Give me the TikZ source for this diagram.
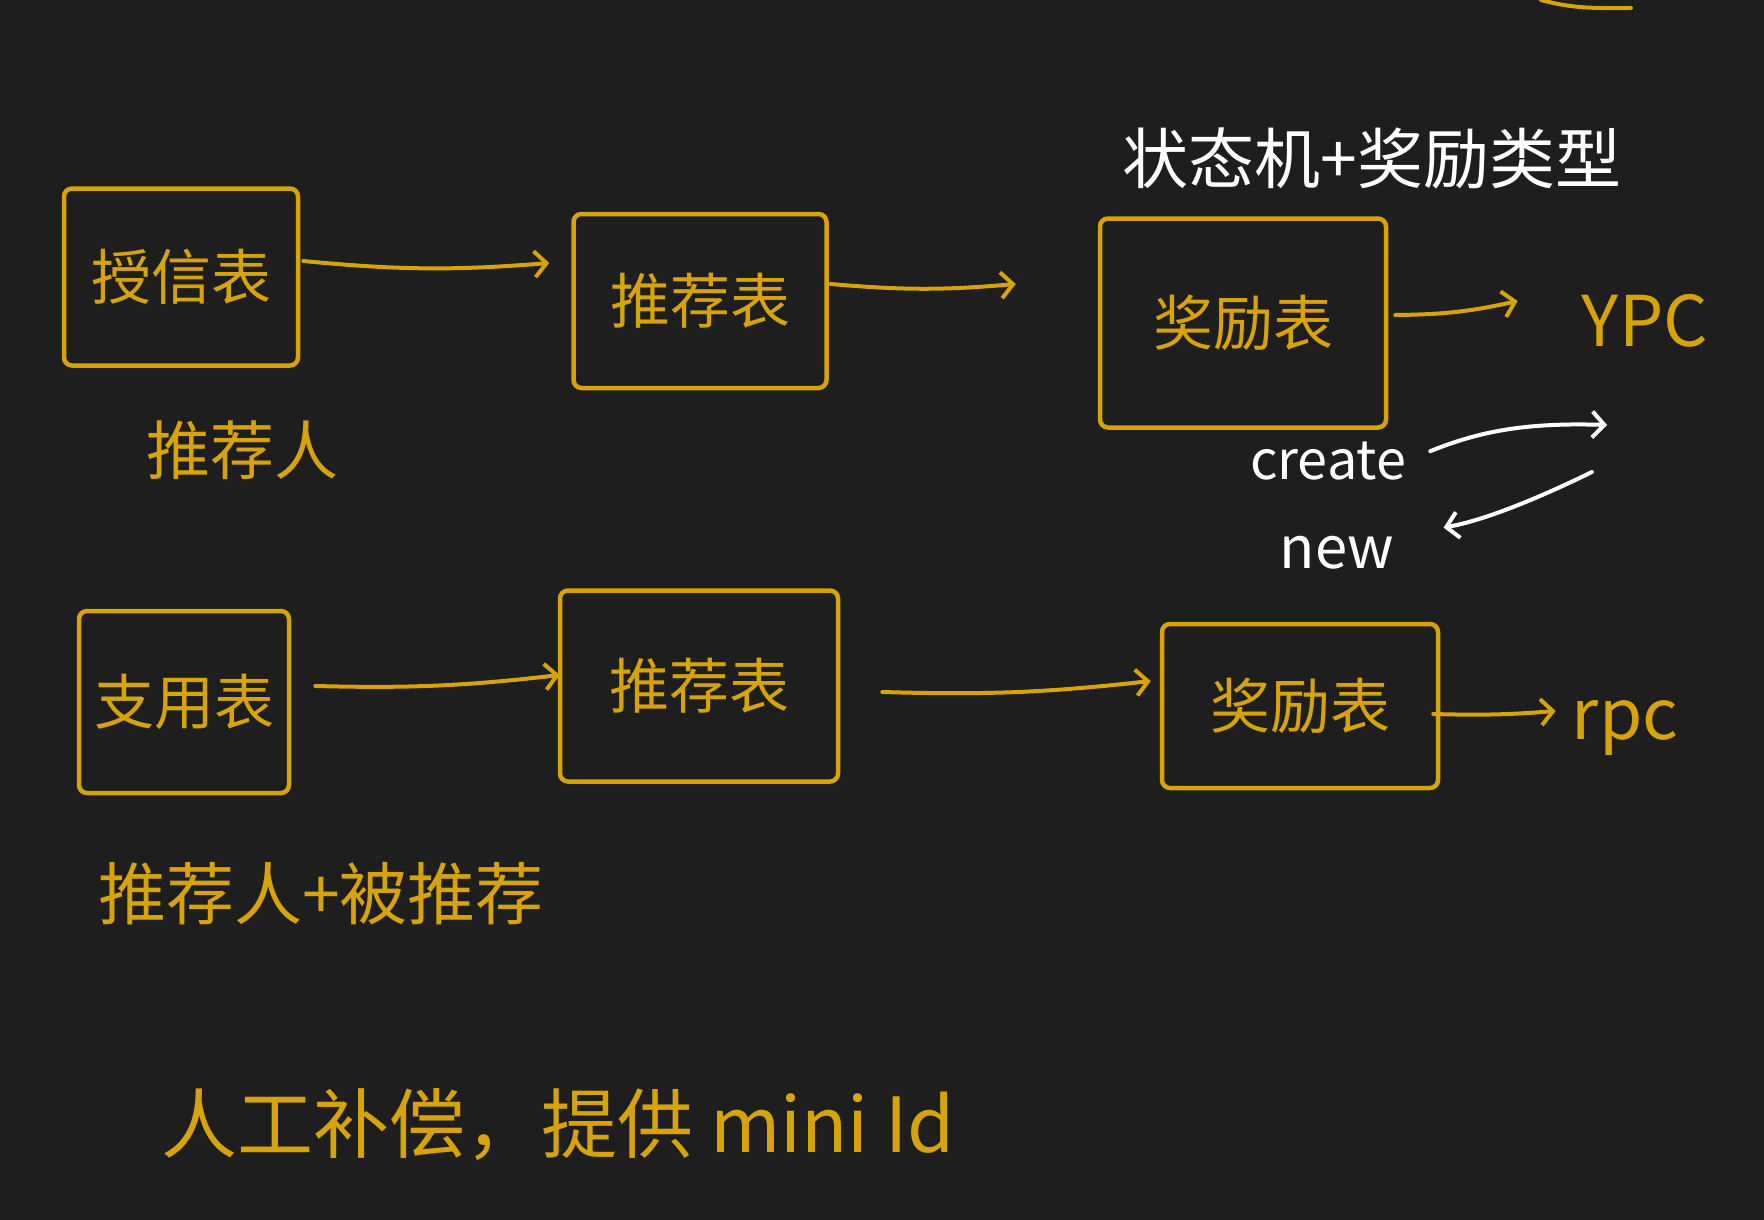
\documentclass[tikz,border=0pt]{standalone}
\usepackage{fontspec}
\setmainfont{Noto Sans CJK SC}
\usetikzlibrary{arrows.meta,calc}
\definecolor{bg}{RGB}{30,30,30}
\definecolor{ink}{RGB}{214,163,10}
\begin{document}
\begin{tikzpicture}[x=1pt,y=-1pt,
  tbox/.style={draw=ink, line width=4.5pt, rounded corners=8pt, inner sep=0pt, text=ink, font=\fontsize{60}{64}\selectfont},
  ylab/.style={text=ink, inner sep=0pt},
  wlab/.style={text=white, inner sep=0pt},
  yarr/.style={draw=ink, line width=4pt, line cap=round, -{Straight Barb[length=12pt,width=26pt]}},
  warr/.style={draw=white, line width=4pt, line cap=round, -{Straight Barb[length=12pt,width=26pt]}}]
\fill[bg] (0,0) rectangle (1764,1220);
\useasboundingbox (0,0) rectangle (1764,1220);

% top row
\node[tbox, minimum width=234pt, minimum height=177pt] (b1) at (181,277) {授信表};
\node[tbox, minimum width=253pt, minimum height=174pt] (b2) at (700,301) {推荐表};
\node[tbox, minimum width=286pt, minimum height=209pt] (b3) at (1243,323) {奖励表};
\node[ylab, font=\fontsize{70}{74}\selectfont] (ypc) at (1645,321) {YPC};
\node[ylab, font=\fontsize{64}{68}\selectfont] (tjr) at (242,450) {推荐人};
\node[wlab, font=\fontsize{66}{70}\selectfont] (title) at (1372,158) {状态机+奖励类型};
\node[wlab, font=\fontsize{54}{58}\selectfont] (create) at (1328,461) {create};
\node[wlab, font=\fontsize{58}{62}\selectfont] (new) at (1337,553) {new};
\coordinate (cend) at (1607,425);
\coordinate (nstart) at (1592,472);

\draw[yarr] ($(b1.east)+(3,-16)$) to[bend right=5] ($(b2.west)+(-22,-38)$);
\draw[yarr] ($(b2.east)+(2,-17)$) to[bend right=5] ($(b3.west)+(-82,-39)$);
\draw[yarr] ($(b3.east)+(7,-8)$) to[bend right=6] ($(ypc.west)+(-64,-20)$);
\draw[warr, shorten <=26pt] (create.east) to[bend left=12] (cend);
\draw[warr, shorten >=50pt] (nstart) to[bend left=8] (new.north east);

% bottom row
\node[tbox, minimum width=210pt, minimum height=182pt] (b4) at (184,702) {支用表};
\node[tbox, minimum width=278pt, minimum height=191pt] (b5) at (699,686) {推荐表};
\node[tbox, minimum width=276pt, minimum height=164pt] (b6) at (1300,706) {奖励表};
\node[ylab, font=\fontsize{70}{74}\selectfont] (rpc) at (1625,728) {rpc};
\node[ylab, font=\fontsize{68}{72}\selectfont] (both) at (321,894) {推荐人+被推荐};
\node[ylab, font=\fontsize{76}{80}\selectfont] (note) at (558,1125) {人工补偿，提供 mini Id};

\draw[yarr] ($(b4.east)+(24,-16)$) to[bend right=4] ($(b5.west)+(2,-11)$);
\draw[yarr] ($(b5.east)+(42,6)$) to[bend right=4] ($(b6.west)+(-9,-25)$);
\draw[yarr] ($(b6.east)+(-7,8)$) to[bend right=3] ($(rpc.west)+(-16,-17)$);

% stroke at top right edge
\draw[ink, line width=4pt, line cap=round] (1541,0) to[out=-15,in=180] (1631,8);
\end{tikzpicture}
\end{document}
